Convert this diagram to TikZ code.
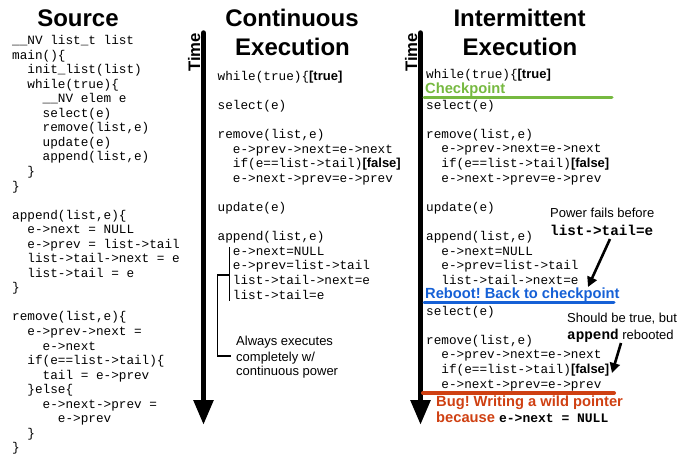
\documentclass[tikz,border=0pt]{standalone}
\usepackage{fontspec}
\setmainfont{Liberation Sans}
\setsansfont{Liberation Sans}
\setmonofont{Liberation Mono}
\usetikzlibrary{arrows.meta}
\definecolor{ckgreen}{RGB}{118,185,64}
\definecolor{rbblue}{RGB}{21,96,214}
\definecolor{bugred}{RGB}{207,64,18}
\newcommand\brlab[1]{\textsf{\bfseries\fontsize{13}{15}\selectfont #1}}
\newcommand\bmono[1]{\texttt{\bfseries\fontsize{14.3}{16}\selectfont #1}}
\frenchspacing
\begin{document}
\begin{tikzpicture}[x=1pt,y=-1pt,
 code/.style={anchor=base west, inner sep=0pt, font=\fontsize{12.7}{14}\ttfamily},
 title/.style={anchor=base, inner sep=0pt, font=\fontsize{24}{28}\sffamily\bfseries},
 timelbl/.style={anchor=base west, rotate=90, inner sep=0pt, font=\fontsize{16.7}{20}\sffamily\bfseries},
 note/.style={anchor=base west, inner sep=0pt, font=\fontsize{13}{15}\sffamily},
 event/.style={anchor=base west, inner sep=0pt, font=\fontsize{14.7}{16}\sffamily\bfseries},
 timearrow/.style={line width=5.5pt, line cap=round, -{Triangle[length=25pt,width=19pt]}},
 notearrow/.style={line width=2.6pt, -{Triangle[length=10pt,width=10pt]}},
 bracket/.style={line width=1.3pt},
 mark line/.style={line width=3pt, line cap=round},
]
\useasboundingbox (0,0) rectangle (678,463);

% titles
\node[title] (tsrc) at (78,27) {Source};
\node[title] (tcont1) at (292,26.5) {Continuous};
\node[title] (tcont2) at (292.5,55) {Execution};
\node[title] (tint1) at (519.5,26.5) {Intermittent};
\node[title] (tint2) at (520,55) {Execution};

% time arrows
\coordinate (t1a) at (203.5,33);
\coordinate (t1b) at (203.5,425);
\coordinate (t2a) at (420.5,33);
\coordinate (t2b) at (420.5,425);
\draw[timearrow] (t1a) -- (t1b);
\draw[timearrow] (t2a) -- (t2b);
\node[timelbl] (time1) at (200,72) {Time};
\node[timelbl] (time2) at (417,72) {Time};

% source code
\foreach \k/\t in {0/{\_\_NV list\_t list}, 1/{main()\{}, 2/{~~init\_list(list)},
  3/{~~while(true)\{}, 4/{~~~~\_\_NV elem e}, 5/{~~~~select(e)}, 6/{~~~~remove(list,e)},
  7/{~~~~update(e)}, 8/{~~~~append(list,e)}, 9/{~~\}}, 10/{\}},
  12/{append(list,e)\{}, 13/{~~e->next = NULL}, 14/{~~e->prev = list->tail},
  15/{~~list->tail->next = e}, 16/{~~list->tail = e}, 17/{\}},
  19/{remove(list,e)\{}, 20/{~~e->prev->next =}, 21/{~~~~e->next},
  22/{~~if(e==list->tail)\{}, 23/{~~~~tail = e->prev}, 24/{~~\}else\{},
  25/{~~~~e->next->prev =}, 26/{~~~~~~e->prev}, 27/{~~\}}, 28/{\}}}
  \node[code] (s\k) at (12,44.5+14.55*\k) {\t};

% continuous execution
\foreach \k/\t in {0/{while(true)\{\brlab{[true]}}, 2/{select(e)}, 4/{remove(list,e)},
  5/{~~e->prev->next=e->next}, 6/{~~if(e==list->tail)\brlab{[false]}},
  7/{~~e->next->prev=e->prev}, 9/{update(e)}, 11/{append(list,e)},
  12/{~~e->next=NULL}, 13/{~~e->prev=list->tail}, 14/{~~list->tail->next=e},
  15/{~~list->tail=e}}
  \node[code] (c\k) at (217.5,80+14.6*\k) {\t};

\coordinate (bA) at (229.5,247);
\coordinate (bB) at (229.5,301);
\coordinate (bC) at (229.5,275);
\coordinate (bD) at (217.5,275);
\coordinate (bE) at (217.5,356);
\coordinate (bF) at (231,356);
\draw[bracket] (bA) -- (bB);
\draw[bracket] (bC) -- (bD) -- (bE) -- (bF);
\node[note] (al1) at (236,345.5) {Always executes};
\node[note] (al2) at (236,361) {completely w/};
\node[note] (al3) at (236,375.5) {continuous power};

% intermittent execution
\node[code] (r0) at (426,78) {while(true)\{\brlab{[true]}};
\node[event, text=ckgreen] (ckpt) at (425,93) {Checkpoint};
\coordinate (g1) at (424,97);
\coordinate (g2) at (612,97);
\draw[mark line, ckgreen] (g1) -- (g2);

\foreach \k/\t in {0/{select(e)}, 2/{remove(list,e)}, 3/{~~e->prev->next=e->next},
  4/{~~if(e==list->tail)\brlab{[false]}}, 5/{~~e->next->prev=e->prev},
  7/{update(e)}, 9/{append(list,e)}, 10/{~~e->next=NULL},
  11/{~~e->prev=list->tail}, 12/{~~list->tail->next=e}}
  \node[code] (ra\k) at (426,109+14.6*\k) {\t};

\node[event, text=rbblue] (reboot) at (425,298.5) {Reboot! Back to checkpoint};
\coordinate (bl1) at (424,302);
\coordinate (bl2) at (614,302);
\draw[mark line, rbblue] (bl1) -- (bl2);

\foreach \k/\t in {0/{select(e)}, 2/{remove(list,e)}, 3/{~~e->prev->next=e->next},
  4/{~~if(e==list->tail)\brlab{[false]}}, 5/{~~e->next->prev=e->prev}}
  \node[code] (rb\k) at (426,315+14.6*\k) {\t};

\coordinate (rl1) at (423,393);
\coordinate (rl2) at (614,393);
\draw[mark line, line width=4pt, bugred] (rl1) -- (rl2);
\node[event, text=bugred] (bug1) at (436,406.5) {Bug! Writing a wild pointer};
\node[event, text=bugred] (bug2) at (436,422) {because \texttt{\bfseries\fontsize{13}{15}\selectfont\color{black} e->next = NULL}};

% annotations
\node[note] (pf1) at (550,217) {Power fails before};
\node[anchor=base west, inner sep=0pt] (pf2) at (550,235) {\bmono{list->tail=e}};
\node[note] (sb1) at (567,322) {Should be true, but};
\node[note] (sb2) at (567,339.5) {\bmono{append} rebooted};

\coordinate (a1s) at (610,239);
\coordinate (a1e) at (588,287);
\coordinate (a2s) at (621,343);
\coordinate (a2e) at (612,373);
\draw[notearrow] (a1s) -- (a1e);
\draw[notearrow] (a2s) -- (a2e);
\end{tikzpicture}
\end{document}
